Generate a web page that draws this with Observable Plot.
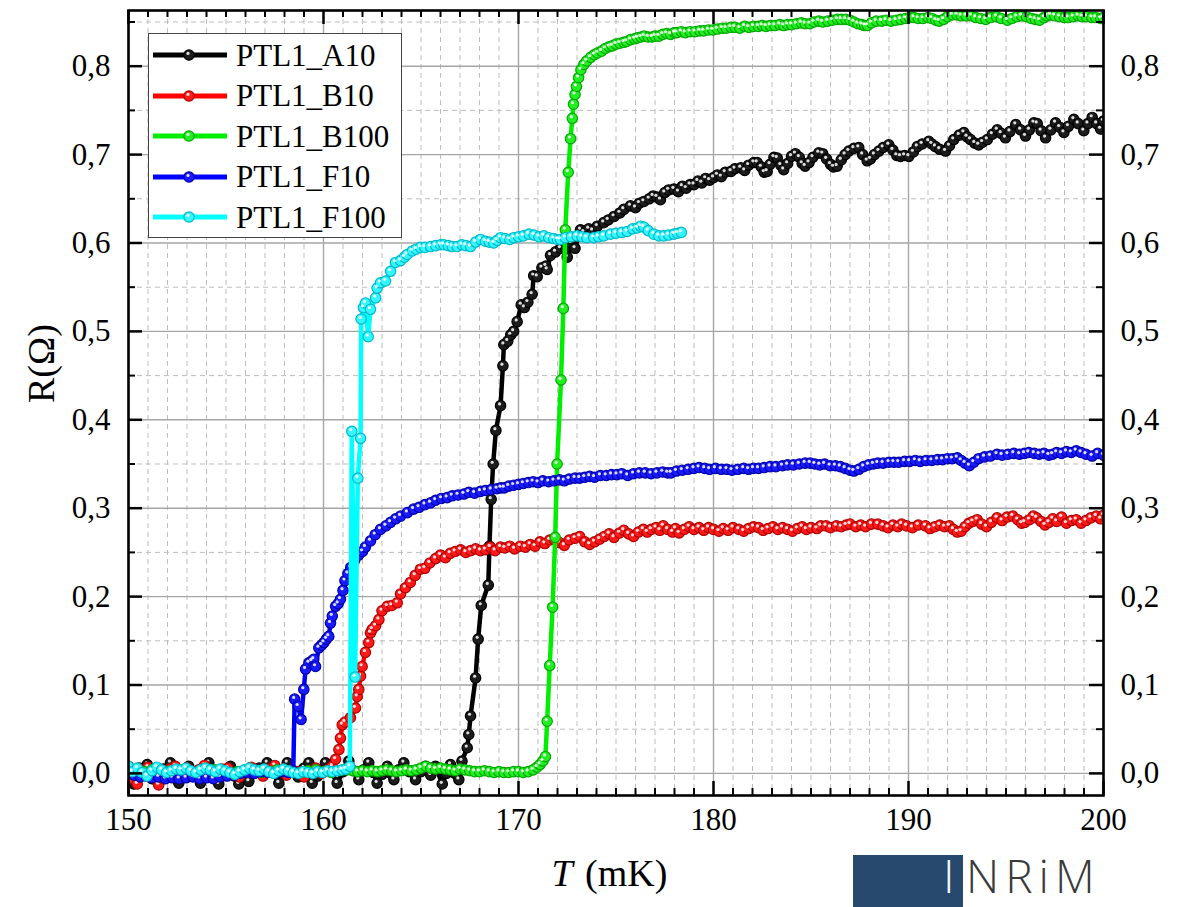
<!DOCTYPE html>
<html>
<head>
<meta charset="utf-8">
<script src="https://cdn.jsdelivr.net/npm/d3@7"></script>
<script src="https://cdn.jsdelivr.net/npm/@observablehq/plot@0.6"></script>
<style>
  html, body { margin: 0; padding: 0; background: #fff; }
  #wrap { position: relative; width: 1189px; height: 907px; overflow: hidden; background: #fff; font-family: "Liberation Serif", "Times New Roman", serif; }
  #legend { position: absolute; left: 148px; top: 33px; width: 254px; height: 205px; background: #fff; border: 1.3px solid #444; box-sizing: border-box; }
  .row { position: absolute; left: 0; height: 40px; display: flex; align-items: center; }
  .row svg { width: 82px; height: 20px; margin-left: 2px; }
  .row span { font-size: 31px; margin-left: 3px; color: #000; line-height: 1; }
  #logo { position: absolute; left: 853px; top: 855px; width: 110px; height: 60px; background: #27496d; }
  #logoI { position: absolute; left: 943px; top: 852px; font-family: "Open Sans", sans-serif; font-weight: 300; font-size: 46px; color: #f4f6f8; line-height: 1; }
  #logoT { position: absolute; left: 966px; top: 852px; font-family: "Open Sans", sans-serif; font-weight: 300; font-size: 46px; letter-spacing: 6px; color: #3a3a3a; line-height: 1; }
</style>
</head>
<body>
<div id="wrap"></div>
<script>
// ---- Data: temperature T (mK), resistance R (Ohm) ----
const seriesNames = ["PTL1_A10", "PTL1_B10", "PTL1_B100", "PTL1_F10", "PTL1_F100"];
const lineColors = ["#000000", "#ff0000", "#00ee00", "#0000ff", "#00ffff"];
const dotFills = ["#1c1c1c", "#ff1a1a", "#22ee22", "#1a1aff", "#33f6ff"];
const dotStrokes = ["#000000", "#b00000", "#00a800", "#0000a8", "#00b8c8"];

const xMajor = [150, 160, 170, 180, 190, 200];
const yMajor = [0.0, 0.1, 0.2, 0.3, 0.4, 0.5, 0.6, 0.7, 0.8];

const A10 = [[150.0,0.004],[150.27,-0.012],[150.55,0.006],[150.96,0.010],[151.2,-0.006],[151.5,-0.010],[151.8,0.005],[152.15,0.012],[152.4,0.002],[152.58,-0.011],[152.85,-0.004],[153.09,0.008],[153.4,0.001],[153.69,-0.011],[153.9,0.003],[154.12,0.012],[154.4,0.002],[154.63,-0.012],[154.9,-0.002],[155.23,0.008],[155.45,-0.003],[155.66,-0.012],[155.9,-0.004],[156.17,-0.009],[156.4,0.002],[156.7,0.006],[157.11,0.012],[157.4,0.001],[157.71,-0.011],[157.9,0.002],[158.14,0.012],[158.4,0.003],[158.7,-0.004],[159.0,0.006],[159.25,0.012],[159.42,-0.011],[159.7,-0.003],[160.1,0.012],[160.4,0.002],[160.7,-0.011],[161.0,0.002],[161.3,0.014],[161.55,0.003],[161.81,-0.007],[162.05,0.004],[162.32,0.012],[162.55,0.001],[162.75,-0.011],[163.0,-0.001],[163.27,0.008],[163.45,0.0],[163.61,-0.007],[163.85,0.004],[164.12,0.012],[164.4,0.002],[164.72,-0.007],[165.0,0.002],[165.23,0.008],[165.5,-0.002],[165.74,0.008],[166.09,-0.012],[166.3,0.0],[166.51,0.01],[166.75,0.0],[166.94,-0.007],[167.1,0.014],
[167.37,0.029],[167.45,0.044],[167.54,0.065],[167.8,0.108],[167.93,0.152],[168.09,0.19],[168.45,0.213],[168.51,0.257],[168.6,0.31],[168.7,0.35],[168.84,0.388],[169.08,0.416],[169.2,0.461],[169.25,0.485],[169.45,0.489],[169.6,0.496],[169.75,0.5],[169.93,0.511],[170.14,0.53],[170.3,0.527],[170.48,0.533],[170.7,0.542],[170.78,0.563],[170.96,0.562],[171.2,0.572],[171.4,0.574],[171.47,0.57],[171.64,0.586],[171.9,0.59],[172.15,0.594],[172.41,0.595],[172.5,0.584],[172.7,0.6],[172.9,0.594],[173.18,0.615],[173.35,0.612],[173.6,0.616],[173.8,0.614],[174.04,0.619],[174.37,0.623],[174.6,0.626],[174.9,0.63],[175.2,0.634],[175.4,0.638],[175.74,0.642],[176.0,0.64],[176.2,0.645],[176.43,0.647],[176.7,0.65],[176.9,0.653],[177.1,0.652],[177.28,0.649],[177.5,0.657],[177.7,0.66],[177.97,0.661],[178.2,0.658],[178.4,0.664],[178.6,0.662],[178.8,0.666],[179.0,0.666],[179.2,0.67],[179.4,0.668],[179.6,0.673],[179.8,0.671],[180.0,0.674],[180.2,0.677],[180.4,0.675],[180.6,0.68],[180.9,0.681],[181.1,0.684],[181.4,0.685],[181.6,0.682],[181.8,0.688],[182.07,0.691],[182.24,0.691],[182.45,0.686],[182.6,0.68],[182.75,0.681],[182.9,0.689],[183.1,0.697],[183.27,0.696],[183.45,0.688],[183.6,0.683],[183.8,0.69],[184.0,0.698],[184.2,0.701],[184.4,0.697],[184.55,0.69],[184.7,0.687],[184.9,0.691],[185.1,0.697],[185.4,0.702],[185.6,0.701],[185.8,0.695],[186.0,0.689],[186.15,0.686],[186.34,0.687],[186.55,0.694],[186.75,0.7],[186.94,0.704],[187.2,0.707],[187.45,0.708],[187.65,0.7],[187.88,0.693],[188.05,0.695],[188.25,0.7],[188.48,0.704],[188.7,0.708],[188.99,0.711],[189.2,0.705],[189.4,0.699],[189.59,0.698],[189.8,0.699],[190.02,0.698],[190.25,0.703],[190.45,0.709],[190.7,0.712],[191.04,0.715],[191.2,0.712],[191.38,0.709],[191.6,0.706],[191.9,0.704],[192.1,0.71],[192.32,0.717],[192.6,0.722],[192.84,0.725],[193.0,0.72],[193.18,0.717],[193.4,0.713],[193.6,0.711],[193.8,0.714],[194.04,0.717],[194.3,0.723],[194.55,0.728],[194.75,0.724],[194.97,0.719],[195.2,0.726],[195.5,0.734],[195.75,0.728],[196.0,0.721],[196.2,0.728],[196.43,0.736],[196.6,0.735],[196.8,0.727],[197.03,0.719],[197.3,0.728],[197.54,0.736],[197.75,0.731],[197.97,0.725],[198.2,0.732],[198.48,0.74],[198.7,0.735],[198.99,0.727],[199.2,0.735],[199.42,0.742],[199.65,0.735],[199.85,0.729],[200.0,0.738]];

const B10 = [[150.0,0.008],[150.2,-0.006],[150.45,-0.012],[150.7,0.004],[151.0,0.007],[151.3,-0.004],[151.55,-0.013],[151.8,-0.006],[152.1,0.005],[152.4,0.008],[152.7,0.002],[153.0,0.006],[153.3,-0.003],[153.6,0.004],[153.9,0.009],[154.2,0.003],[154.5,-0.002],[154.8,0.005],[155.1,0.006],[155.4,0.0],[155.7,-0.004],[156.0,0.003],[156.3,0.007],[156.6,0.001],[156.9,-0.003],[157.2,0.005],[157.5,0.009],[157.8,0.003],[158.1,-0.002],[158.4,0.004],[158.7,0.002],[159.0,-0.004],[159.3,0.003],[159.6,0.006],[159.9,0.0],[160.2,0.004],[160.45,0.008],
[160.62,0.016],[160.79,0.027],[160.87,0.04],[160.96,0.055],[161.1,0.058],[161.38,0.063],[161.64,0.074],[161.73,0.087],[161.81,0.095],[161.9,0.11],[161.98,0.121],[162.15,0.137],[162.32,0.148],[162.41,0.159],[162.5,0.163],[162.67,0.167],[162.84,0.174],[163.0,0.184],[163.27,0.189],[163.5,0.19],[163.78,0.193],[163.95,0.203],[164.2,0.21],[164.45,0.216],[164.7,0.224],[164.97,0.231],[165.2,0.232],[165.45,0.238],[165.75,0.243],[166.0,0.247],[166.25,0.244],[166.5,0.249],[166.75,0.251],[167.03,0.253],[167.3,0.25],[167.55,0.252],[167.8,0.254],[168.05,0.252],[168.3,0.253],[168.55,0.256],[168.8,0.252],[169.08,0.256],[169.3,0.255],[169.55,0.257],[169.8,0.254],[170.09,0.257],[170.35,0.256],[170.6,0.259],[170.85,0.257],[171.1,0.262],[171.35,0.26],[171.6,0.264],[171.82,0.265],[172.1,0.261],[172.35,0.258],[172.6,0.264],[172.9,0.266],[173.14,0.268],[173.4,0.262],[173.65,0.259],[173.9,0.262],[174.16,0.265],[174.4,0.268],[174.65,0.271],[174.9,0.267],[175.18,0.272],[175.4,0.275],[175.65,0.271],[175.9,0.268],[176.15,0.273],[176.4,0.276],[176.6,0.273],[176.81,0.276],[177.05,0.278],[177.25,0.275],[177.42,0.28],[177.65,0.276],[177.9,0.273],[178.05,0.277],[178.24,0.272],[178.5,0.276],[178.75,0.279],[179.0,0.276],[179.26,0.278],[179.5,0.275],[179.75,0.278],[180.0,0.276],[180.28,0.274],[180.5,0.277],[180.75,0.275],[181.0,0.278],[181.3,0.276],[181.55,0.274],[181.8,0.277],[182.05,0.279],[182.31,0.278],[182.55,0.275],[182.8,0.277],[183.05,0.279],[183.3,0.276],[183.54,0.278],[183.8,0.276],[184.05,0.274],[184.3,0.277],[184.55,0.279],[184.76,0.276],[185.0,0.278],[185.3,0.277],[185.5,0.28],[185.77,0.28],[186.0,0.278],[186.3,0.28],[186.55,0.279],[186.8,0.281],[187.0,0.282],[187.3,0.279],[187.55,0.281],[187.8,0.279],[188.1,0.282],[188.43,0.282],[188.7,0.28],[188.95,0.278],[189.2,0.281],[189.45,0.279],[189.65,0.282],[189.9,0.28],[190.2,0.278],[190.5,0.281],[190.87,0.28],[191.1,0.277],[191.35,0.279],[191.6,0.281],[191.85,0.279],[192.09,0.28],[192.3,0.276],[192.5,0.273],[192.7,0.274],[192.9,0.279],[193.1,0.283],[193.3,0.285],[193.52,0.287],[193.75,0.282],[194.0,0.279],[194.25,0.284],[194.54,0.289],[194.8,0.286],[195.05,0.29],[195.35,0.291],[195.6,0.287],[195.8,0.283],[195.96,0.284],[196.2,0.287],[196.4,0.291],[196.57,0.289],[196.8,0.285],[197.0,0.281],[197.2,0.284],[197.4,0.288],[197.6,0.285],[197.85,0.29],[198.1,0.283],[198.35,0.286],[198.6,0.287],[198.85,0.283],[199.1,0.286],[199.35,0.289],[199.63,0.291],[199.85,0.288],[200.0,0.292]];

const B100 = [[150.0,0.004],[150.4,0.003],[150.8,0.002],[151.2,0.004],[151.6,0.003],[152.0,0.002],[152.4,0.003],[152.8,0.004],[153.2,0.002],[153.6,0.001],[154.0,0.003],[154.4,0.004],[154.8,0.002],[155.2,0.001],[155.6,0.002],[156.0,0.004],[156.4,0.003],[156.8,0.001],[157.2,0.002],[157.6,0.004],[158.0,0.003],[158.4,0.002],[158.8,0.001],[159.2,0.003],[159.6,0.004],[160.0,0.002],[160.4,0.001],[160.8,0.003],[161.2,0.004],
[161.5,0.003],[161.75,0.002],[162.0,0.003],[162.25,0.002],[162.5,0.003],[162.75,0.002],[163.0,0.003],[163.25,0.004],[163.5,0.003],[163.75,0.002],[164.0,0.003],[164.25,0.004],[164.5,0.003],[164.75,0.004],[165.0,0.006],[165.25,0.008],[165.5,0.006],[165.75,0.005],[166.0,0.006],[166.25,0.005],[166.5,0.004],[166.75,0.003],[167.0,0.005],[167.25,0.004],[167.5,0.003],[167.75,0.002],[168.0,0.002],[168.25,0.003],[168.5,0.002],[168.75,0.001],[169.0,0.002],[169.25,0.001],[169.5,0.001],[169.75,0.002],[170.0,0.002],[170.25,0.001],[170.5,0.002],[170.75,0.004],[170.95,0.007],[171.1,0.01],[171.25,0.014],
[171.38,0.019],[171.47,0.059],[171.6,0.122],[171.75,0.188],[171.88,0.267],[171.98,0.35],[172.18,0.445],[172.3,0.526],[172.4,0.615],[172.55,0.68],[172.67,0.718],[172.76,0.741],[172.82,0.757],[172.9,0.768],[172.97,0.777],[173.08,0.787],[173.2,0.796],[173.35,0.802],[173.5,0.806],[173.7,0.81],[173.89,0.813],[174.05,0.815],[174.26,0.817],[174.45,0.82],[174.65,0.822],[174.81,0.823],[175.0,0.825],[175.2,0.826],[175.4,0.827],[175.55,0.828],[175.75,0.83],[175.95,0.831],[176.1,0.832],[176.28,0.833],[176.45,0.834],[176.65,0.833],[176.85,0.833],[177.0,0.834],[177.2,0.834],[177.4,0.836],[177.6,0.837],[177.8,0.836],[178.0,0.838],[178.12,0.838],[178.35,0.839],[178.55,0.838],[178.8,0.839],[179.05,0.839],[179.3,0.84],[179.5,0.84],[179.75,0.841],[179.97,0.841],[180.2,0.842],[180.45,0.843],[180.65,0.843],[180.89,0.844],[181.1,0.844],[181.35,0.843],[181.6,0.845],[181.81,0.844],[182.05,0.845],[182.3,0.845],[182.5,0.846],[182.7,0.845],[182.91,0.846],[183.15,0.846],[183.4,0.847],[183.6,0.846],[183.8,0.847],[184.01,0.847],[184.25,0.848],[184.5,0.849],[184.7,0.848],[184.94,0.848],[185.15,0.85],[185.4,0.851],[185.6,0.85],[185.86,0.851],[186.1,0.852],[186.35,0.853],[186.55,0.853],[186.78,0.853],[187.0,0.852],[187.2,0.85],[187.4,0.848],[187.6,0.847],[187.75,0.846],[187.89,0.846],[188.1,0.849],[188.35,0.851],[188.62,0.851],[188.85,0.852],[189.1,0.851],[189.36,0.852],[189.6,0.853],[189.85,0.854],[190.05,0.855],[190.28,0.855],[190.5,0.854],[190.75,0.854],[191.0,0.855],[191.2,0.854],[191.4,0.852],[191.57,0.851],[191.8,0.853],[192.0,0.856],[192.25,0.858],[192.49,0.858],[192.7,0.857],[192.95,0.857],[193.23,0.857],[193.45,0.855],[193.7,0.854],[193.96,0.853],[194.2,0.855],[194.51,0.856],[194.75,0.854],[195.07,0.852],[195.3,0.854],[195.55,0.856],[195.8,0.857],[196.05,0.856],[196.3,0.854],[196.5,0.853],[196.72,0.852],[196.95,0.855],[197.1,0.857],[197.28,0.858],[197.5,0.857],[197.75,0.856],[198.0,0.855],[198.2,0.855],[198.45,0.856],[198.7,0.857],[198.9,0.856],[199.12,0.856],[199.4,0.855],[199.6,0.855],[199.85,0.854],[200.0,0.855]];

const F10 = [[150.0,0.006],[150.3,-0.002],[150.6,-0.004],[150.9,-0.003],[151.2,-0.005],[151.55,-0.004],[151.9,-0.006],[152.25,-0.005],[152.6,-0.006],[152.95,-0.005],[153.3,-0.004],[153.65,-0.006],[154.0,-0.005],[154.35,-0.006],[154.7,-0.004],[155.05,-0.003],[155.4,-0.002],[155.75,0.0],[156.1,0.001],[156.45,0.0],[156.8,0.002],[157.15,0.001],[157.5,0.0],[157.85,0.002],[158.2,0.001],[158.45,0.002],
[158.52,0.084],[158.7,0.076],[158.85,0.061],[158.99,0.095],[159.08,0.118],[159.25,0.125],[159.4,0.127],[159.5,0.129],[159.59,0.121],[159.76,0.142],[159.9,0.145],[160.02,0.148],[160.15,0.152],[160.27,0.155],[160.36,0.17],[160.45,0.178],[160.62,0.189],[160.75,0.192],[160.87,0.197],[161.0,0.207],[161.1,0.218],[161.25,0.226],[161.4,0.233],[161.6,0.241],[161.8,0.247],[162.0,0.251],[162.15,0.256],[162.41,0.263],[162.65,0.27],[162.92,0.276],[163.2,0.28],[163.44,0.284],[163.7,0.288],[163.95,0.291],[164.3,0.295],[164.62,0.299],[164.9,0.301],[165.2,0.304],[165.49,0.306],[165.75,0.309],[166.05,0.311],[166.34,0.312],[166.6,0.314],[166.9,0.315],[167.2,0.316],[167.45,0.318],[167.75,0.317],[168.05,0.319],[168.3,0.32],[168.6,0.321],[168.9,0.322],[169.1,0.323],[169.27,0.323],[169.5,0.325],[169.75,0.326],[170.0,0.327],[170.25,0.328],[170.5,0.329],[170.75,0.33],[171.0,0.329],[171.25,0.331],[171.55,0.33],[171.82,0.331],[172.1,0.332],[172.35,0.331],[172.6,0.333],[172.9,0.334],[173.14,0.334],[173.4,0.335],[173.65,0.336],[173.9,0.335],[174.2,0.337],[174.5,0.337],[174.77,0.338],[175.05,0.338],[175.3,0.339],[175.6,0.337],[175.9,0.339],[176.2,0.34],[176.5,0.34],[176.8,0.339],[177.1,0.34],[177.4,0.341],[177.65,0.34],[177.83,0.34],[178.1,0.342],[178.4,0.343],[178.7,0.344],[179.0,0.345],[179.26,0.346],[179.55,0.345],[179.8,0.344],[180.1,0.345],[180.4,0.344],[180.69,0.344],[180.95,0.343],[181.25,0.344],[181.55,0.345],[181.8,0.344],[182.05,0.345],[182.31,0.345],[182.6,0.346],[182.9,0.347],[183.2,0.347],[183.54,0.348],[183.8,0.349],[184.1,0.349],[184.4,0.35],[184.7,0.351],[184.96,0.351],[185.2,0.35],[185.45,0.349],[185.7,0.35],[185.98,0.348],[186.25,0.348],[186.5,0.347],[186.75,0.345],[187.0,0.343],[187.2,0.342],[187.45,0.344],[187.7,0.347],[187.95,0.349],[188.2,0.35],[188.43,0.351],[188.7,0.351],[189.0,0.352],[189.25,0.352],[189.5,0.352],[189.8,0.353],[190.06,0.353],[190.35,0.354],[190.6,0.353],[190.9,0.354],[191.2,0.354],[191.49,0.355],[191.75,0.355],[192.0,0.356],[192.25,0.356],[192.5,0.357],[192.7,0.354],[192.9,0.351],[193.12,0.348],[193.35,0.352],[193.6,0.356],[193.9,0.358],[194.2,0.359],[194.54,0.361],[194.8,0.36],[195.1,0.361],[195.4,0.362],[195.7,0.361],[195.95,0.362],[196.17,0.363],[196.45,0.362],[196.7,0.361],[196.95,0.362],[197.2,0.36],[197.39,0.361],[197.6,0.363],[197.85,0.362],[198.1,0.364],[198.35,0.363],[198.6,0.365],[198.85,0.363],[199.1,0.361],[199.42,0.359],[199.7,0.362],[200.0,0.36]];

const F100 = [[150.0,0.008],[150.2,0.002],[150.45,0.006],[150.7,0.001],[150.95,-0.003],[151.2,0.003],[151.45,0.007],[151.7,0.004],[151.95,0.001],[152.2,0.003],[152.45,0.005],[152.7,0.004],[152.95,0.006],[153.2,0.003],[153.45,0.001],[153.7,0.004],[153.95,0.006],[154.2,0.004],[154.45,0.002],[154.7,0.005],[154.95,0.003],[155.2,0.001],[155.45,-0.001],[155.7,0.002],[155.95,0.004],[156.2,0.006],[156.45,0.004],[156.7,0.003],[156.95,0.005],[157.2,0.002],[157.45,0.0],[157.7,0.003],[157.95,0.005],[158.2,0.003],[158.45,0.001],[158.7,0.0],[158.95,0.002],[159.2,0.001],[159.45,0.0],[159.7,0.002],[159.95,0.001],[160.2,0.003],[160.45,0.002],[160.7,0.003],[160.95,0.004],[161.15,0.005],[161.35,0.008],
[161.45,0.387],[161.62,0.109],[161.76,0.334],[161.9,0.379],[161.93,0.514],[162.05,0.527],[162.15,0.532],[162.29,0.494],[162.41,0.525],[162.67,0.538],[162.75,0.549],[162.92,0.555],[163.18,0.557],[163.44,0.568],[163.69,0.578],[163.95,0.58],[164.15,0.584],[164.29,0.587],[164.55,0.591],[164.75,0.593],[164.97,0.595],[165.2,0.595],[165.49,0.596],[165.75,0.597],[166.0,0.598],[166.17,0.598],[166.4,0.597],[166.6,0.596],[166.85,0.596],[167.1,0.598],[167.3,0.597],[167.54,0.596],[167.8,0.601],[168.05,0.604],[168.3,0.602],[168.5,0.601],[168.73,0.6],[168.9,0.603],[169.08,0.606],[169.3,0.605],[169.55,0.604],[169.76,0.606],[170.0,0.607],[170.25,0.608],[170.53,0.61],[170.8,0.609],[171.05,0.607],[171.3,0.608],[171.55,0.606],[171.8,0.605],[172.0,0.604],[172.15,0.604],[172.4,0.606],[172.7,0.607],[173.0,0.608],[173.25,0.607],[173.5,0.606],[173.86,0.606],[174.1,0.607],[174.37,0.608],[174.72,0.61],[175.0,0.611],[175.3,0.612],[175.57,0.613],[175.85,0.616],[176.09,0.617],[176.26,0.619],[176.43,0.618],[176.65,0.614],[176.94,0.61],[177.2,0.608],[177.45,0.608],[177.7,0.609],[177.97,0.61],[178.15,0.611],[178.35,0.612]];

const allSeries = [A10, B10, B100, F10, F100];
const yLabel = "R(Ω)";
const xLabelItalic = "T";
const xLabelUnit = "(mK)";

// ---- Plot ----
const xMinor = d3.range(151, 200).filter(v => v % 10 !== 0);
const yMinor = d3.range(0.05, 0.86, 0.1).map(v => +v.toFixed(2));
const fmt = d => d.toFixed(1).replace(".", ",");

const frameW = 1189 - 128 - 86;
const frameH = 907 - 10 - 112;

const seriesMarks = allSeries.flatMap((s, i) => [
  Plot.line(s, {x: d => d[0], y: d => d[1], stroke: lineColors[i], strokeWidth: 4.5, clip: true}),
  Plot.dot(s, {x: d => d[0], y: d => d[1], r: 5.2, fill: dotFills[i], stroke: dotStrokes[i], strokeWidth: 1.2, clip: true}),
  Plot.dot(s, {x: d => d[0], y: d => d[1], r: 1.6, fill: "white", fillOpacity: 0.85, dx: -1, dy: -1.7, clip: true})
]);

const chart = Plot.plot({
  width: 1189,
  height: 907,
  marginLeft: 128,
  marginRight: 86,
  marginTop: 10,
  marginBottom: 112,
  x: {domain: [150, 200], axis: null},
  y: {domain: [-0.025, 0.863], axis: null},
  style: {fontFamily: "Liberation Serif, Times New Roman, serif", background: "white", color: "black"},
  marks: [
    // grid
    Plot.ruleX(xMinor, {x: d => d, stroke: "#bdbdbd", strokeWidth: 1, strokeDasharray: "5,4"}),
    Plot.ruleY(yMinor, {y: d => d, stroke: "#bdbdbd", strokeWidth: 1, strokeDasharray: "5,4"}),
    Plot.ruleX(xMajor, {x: d => d, stroke: "#a6a6a6", strokeWidth: 1.4}),
    Plot.ruleY(yMajor, {y: d => d, stroke: "#a6a6a6", strokeWidth: 1.4}),
    // data
    ...seriesMarks,
    // ticks (inward)
    Plot.tickX(xMajor, {x: d => d, stroke: "black", strokeWidth: 2.5, insetTop: frameH - 14}),
    Plot.tickX(xMinor, {x: d => d, stroke: "black", strokeWidth: 2, insetTop: frameH - 7}),
    Plot.tickX(xMajor, {x: d => d, stroke: "black", strokeWidth: 2.5, insetBottom: frameH - 14}),
    Plot.tickX(xMinor, {x: d => d, stroke: "black", strokeWidth: 2, insetBottom: frameH - 7}),
    Plot.tickY(yMajor, {y: d => d, stroke: "black", strokeWidth: 2.5, insetRight: frameW - 14}),
    Plot.tickY(yMinor, {y: d => d, stroke: "black", strokeWidth: 2, insetRight: frameW - 7}),
    Plot.tickY(yMajor, {y: d => d, stroke: "black", strokeWidth: 2.5, insetLeft: frameW - 14}),
    Plot.tickY(yMinor, {y: d => d, stroke: "black", strokeWidth: 2, insetLeft: frameW - 7}),
    Plot.frame({stroke: "black", strokeWidth: 2.6}),
    // tick labels
    Plot.text(xMajor, {x: d => d, frameAnchor: "bottom", dy: 34, text: d => String(d), fontSize: 31, fill: "black"}),
    Plot.text(yMajor, {y: d => d, frameAnchor: "left", dx: -18, textAnchor: "end", text: fmt, fontSize: 31, fill: "black"}),
    Plot.text(yMajor, {y: d => d, frameAnchor: "right", dx: 17, textAnchor: "start", text: fmt, fontSize: 31, fill: "black"}),
    // axis titles
    Plot.text([yLabel], {frameAnchor: "left", dx: -87, rotate: -90, text: d => d, fontSize: 38, fill: "black"}),
    Plot.text([xLabelItalic], {frameAnchor: "bottom", dx: -54, dy: 90, text: d => d, fontSize: 38, fontStyle: "italic", fill: "black"}),
    Plot.text([xLabelUnit], {frameAnchor: "bottom", dx: -31, dy: 90, textAnchor: "start", text: d => d, fontSize: 38, fill: "black"})
  ]
});

const wrap = document.getElementById("wrap");
wrap.appendChild(chart);

// legend
const legend = document.createElement("div");
legend.id = "legend";
seriesNames.forEach((name, i) => {
  const row = document.createElement("div");
  row.className = "row";
  row.style.top = (1 + i * 40.6) + "px";
  row.innerHTML = `<svg viewBox="0 0 82 20"><line x1="2" x2="76" y1="10" y2="10" stroke="${lineColors[i]}" stroke-width="5"/><circle cx="38" cy="10" r="5.2" fill="${dotFills[i]}" stroke="${dotStrokes[i]}" stroke-width="1.2"/><circle cx="37" cy="8.4" r="1.6" fill="white" fill-opacity="0.85"/></svg><span>${name}</span>`;
  legend.appendChild(row);
});
wrap.appendChild(legend);

// logo
const logo = document.createElement("div"); logo.id = "logo"; wrap.appendChild(logo);
const logoI = document.createElement("div"); logoI.id = "logoI"; logoI.textContent = "I"; wrap.appendChild(logoI);
const logoT = document.createElement("div"); logoT.id = "logoT"; logoT.textContent = "NRiM"; wrap.appendChild(logoT);
</script>
</body>
</html>
